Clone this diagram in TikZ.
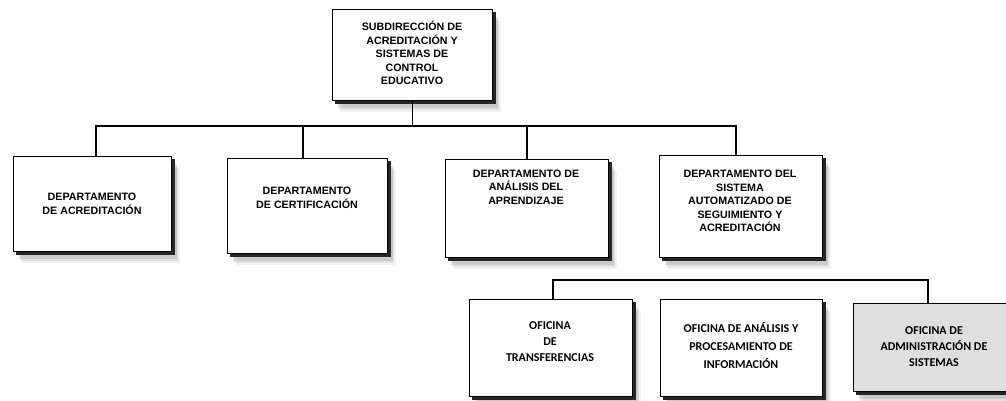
\documentclass[tikz,border=0pt]{standalone}
\usepackage{fontspec}
\setmainfont{Liberation Sans}
\newfontfamily\calibfont{Carlito}
\begin{document}
\begin{tikzpicture}[x=1pt,y=-1pt,
  orgbox/.style={rectangle, draw=black, line width=1.2pt, fill=white, inner sep=0pt, anchor=north west,
    preaction={fill=black, fill opacity=0.05, draw=none, transform canvas={shift={(8pt,-11pt)}}},
    preaction={fill=black, fill opacity=0.07, draw=none, transform canvas={shift={(6pt,-9pt)}}},
    preaction={fill=black, fill opacity=0.10, draw=none, transform canvas={shift={(5pt,-7pt)}}},
    preaction={fill=black!85, draw=black!85, line width=1.2pt, transform canvas={shift={(3.2pt,-3.2pt)}}}},
  uptext/.style={font=\fontsize{10.7}{13.5}\selectfont\bfseries, align=center, inner sep=0pt},
  lowtext/.style={font=\calibfont\fontsize{12}{16}\selectfont\bfseries, align=center, inner sep=0pt},
  link/.style={draw=black, line width=1.2pt}]
\useasboundingbox (0,0) rectangle (1006,401);
\clip (0,0) rectangle (1006,401);

% boxes
\node[orgbox, minimum width=160pt, minimum height=91pt] (top) at (332,9) {};
\node[orgbox, minimum width=158pt, minimum height=95pt] (d1) at (13,156) {};
\node[orgbox, minimum width=160pt, minimum height=95pt] (d2) at (227,158) {};
\node[orgbox, minimum width=163pt, minimum height=98pt] (d3) at (445,159) {};
\node[orgbox, minimum width=163pt, minimum height=102pt] (d4) at (659,155) {};
\node[orgbox, minimum width=163pt, minimum height=97pt] (o1) at (469,299) {};
\node[orgbox, minimum width=162pt, minimum height=97pt] (o2) at (660,299) {};
\node[orgbox, fill=black!13, minimum width=163pt, minimum height=88pt] (o3) at (853,303) {};

% texts
\node[uptext] (ttop) at (412,53) {SUBDIRECCIÓN DE\\ACREDITACIÓN Y\\SISTEMAS DE\\CONTROL\\EDUCATIVO};
\node[uptext] (td1) at (92,204) {DEPARTAMENTO\\DE ACREDITACIÓN};
\node[uptext] (td2) at (307,198) {DEPARTAMENTO\\DE CERTIFICACIÓN};
\node[uptext] (td3) at (526,187) {DEPARTAMENTO DE\\ANÁLISIS DEL\\APRENDIZAJE};
\node[uptext] (td4) at (740,201) {DEPARTAMENTO DEL\\SISTEMA\\AUTOMATIZADO DE\\SEGUIMIENTO Y\\ACREDITACIÓN};
\node[lowtext] (to1) at (550,342) {OFICINA\\DE\\TRANSFERENCIAS};
\node[lowtext, font=\calibfont\fontsize{12}{18}\selectfont\bfseries] (to2) at (741,345) {OFICINA DE ANÁLISIS Y\\PROCESAMIENTO DE\\INFORMACIÓN};
\node[lowtext] (to3) at (934,347) {OFICINA DE\\ADMINISTRACIÓN DE\\SISTEMAS};

% connectors
\coordinate (b1) at (96,126);
\coordinate (b2) at (303,126);
\coordinate (b3) at (527,126);
\coordinate (b4) at (736,126);
\draw[link] (top.south) -- (top.south |- b1);
\draw[link] (b1 |- d1.north) -- (b1) -- (b4) -- (b4 |- d4.north);
\draw[link] (b2) -- (b2 |- d2.north);
\draw[link] (b3) -- (b3 |- d3.north);
\coordinate (c1) at (553,280);
\coordinate (c3) at (928,280);
\draw[link] (c1 |- o1.north) -- (c1) -- (c3) -- (c3 |- o3.north);
\end{tikzpicture}
\end{document}
